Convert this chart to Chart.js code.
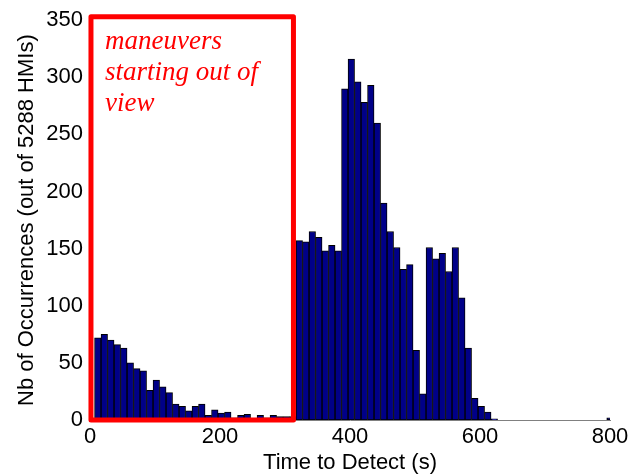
<!DOCTYPE html>
<html>
<head>
<meta charset="utf-8">
<script src="https://cdn.jsdelivr.net/npm/chart.js@4/dist/chart.umd.min.js"></script>
<style>
    html, body { margin: 0; padding: 0; background: #fff; }
    #wrap { width: 640px; height: 476px; }
</style>
</head>
<body>
<div id="wrap"><canvas id="myChart" width="640" height="476"></canvas></div>
<script>
// bin centres (s) and counts
const binCenters = [
    12, 22, 32, 42, 52, 62, 72, 82, 92, 102,
    112, 122, 132, 142, 152, 162, 172, 182, 192, 202,
    212, 222, 232, 242, 252, 262, 272, 282, 292, 302,
    312,
    322, 332, 342, 352, 362, 372, 382, 392, 402, 412,
    422, 432, 442, 452, 462, 472, 482, 492, 502, 512,
    522, 532, 542, 552, 562, 572, 582, 592, 602, 612,
    622,
    800
];
const counts = [
    72, 75, 70, 66, 63, 50, 45, 43, 26, 35,
    29, 24, 14, 12, 8, 12, 14, 4, 9, 6,
    7, 2, 4, 5, 1, 4, 2, 4, 3, 3,
    3,
    157, 156, 165, 160, 148, 153, 148, 290, 316, 296,
    278, 293, 260, 190, 165, 151, 132, 136, 61, 23,
    151, 141, 146, 130, 151, 107, 63, 19, 12, 7,
    1,
    2
];
const xTicks = [0, 200, 400, 600, 800];
const yTicks = [0, 50, 100, 150, 200, 250, 300, 350];

const noteLines = ['maneuvers', 'starting out of', 'view'];
// red box around the early part, in axis units
const boxX = [1.5, 313];
const boxY = [0, 353];

const points = binCenters.map((x, i) => ({ x: x, y: counts[i] }));

const fontFamily = '"Liberation Sans", Arial, sans-serif';

const boxPlugin = {
    id: 'redBox',
    afterDatasetsDraw: (chart) => {
        const { ctx, scales } = chart;
        const x1 = scales.x.getPixelForValue(boxX[0]);
        const x2 = scales.x.getPixelForValue(boxX[1]);
        const y1 = scales.y.getPixelForValue(boxY[1]);
        const y2 = scales.y.getPixelForValue(boxY[0]);
        ctx.save();
        ctx.strokeStyle = '#ff0000';
        ctx.lineWidth = 5;
        ctx.lineJoin = 'round';
        ctx.strokeRect(x1, y1, x2 - x1, y2 - y1);

        ctx.fillStyle = '#ff0000';
        ctx.font = 'italic 27px "Liberation Serif", "Times New Roman", serif';
        ctx.textAlign = 'left';
        ctx.textBaseline = 'alphabetic';
        noteLines.forEach((line, i) => {
            ctx.fillText(line, x1 + 14, y1 + 32 + i * 31);
        });
        ctx.restore();
    }
};

const ctx = document.getElementById('myChart');

new Chart(ctx, {
    type: 'bar',
    data: {
        datasets: [{
            data: points,
            backgroundColor: '#000088',
            borderColor: '#000000',
            borderWidth: 1,
            borderSkipped: false,
            barPercentage: 1,
            categoryPercentage: 1
        }]
    },
    options: {
        responsive: false,
        animation: false,
        layout: {
            padding: { top: 16, right: 30, left: 0, bottom: 0 }
        },
        plugins: {
            legend: { display: false },
            tooltip: { enabled: false }
        },
        scales: {
            x: {
                type: 'linear',
                min: 0,
                max: 800,
                offset: false,
                afterFit: (s) => { s.height = 56; },
                afterBuildTicks: (s) => { s.ticks = xTicks.map(v => ({ value: v })); },
                grid: { display: false, drawTicks: false, offset: false },
                border: { display: true, color: '#808080', width: 1 },
                ticks: {
                    padding: 4,
                    color: '#000',
                    font: { family: fontFamily, size: 22 }
                },
                title: {
                    display: true,
                    text: 'Time to Detect (s)',
                    color: '#000',
                    padding: { top: 0, bottom: 0 },
                    font: { family: fontFamily, size: 22 }
                }
            },
            y: {
                min: 0,
                max: 350,
                afterFit: (s) => { s.width = 90; },
                afterBuildTicks: (s) => { s.ticks = yTicks.map(v => ({ value: v })); },
                grid: { display: false, drawTicks: false },
                border: { display: true, color: '#000', width: 1 },
                ticks: {
                    padding: 7,
                    color: '#000',
                    font: { family: fontFamily, size: 22 }
                },
                title: {
                    display: true,
                    text: 'Nb of Occurrences (out of 5288 HMIs)',
                    color: '#000',
                    padding: { top: 14, bottom: 0 },
                    font: { family: fontFamily, size: 22 }
                }
            }
        }
    },
    plugins: [boxPlugin]
});
</script>
</body>
</html>
